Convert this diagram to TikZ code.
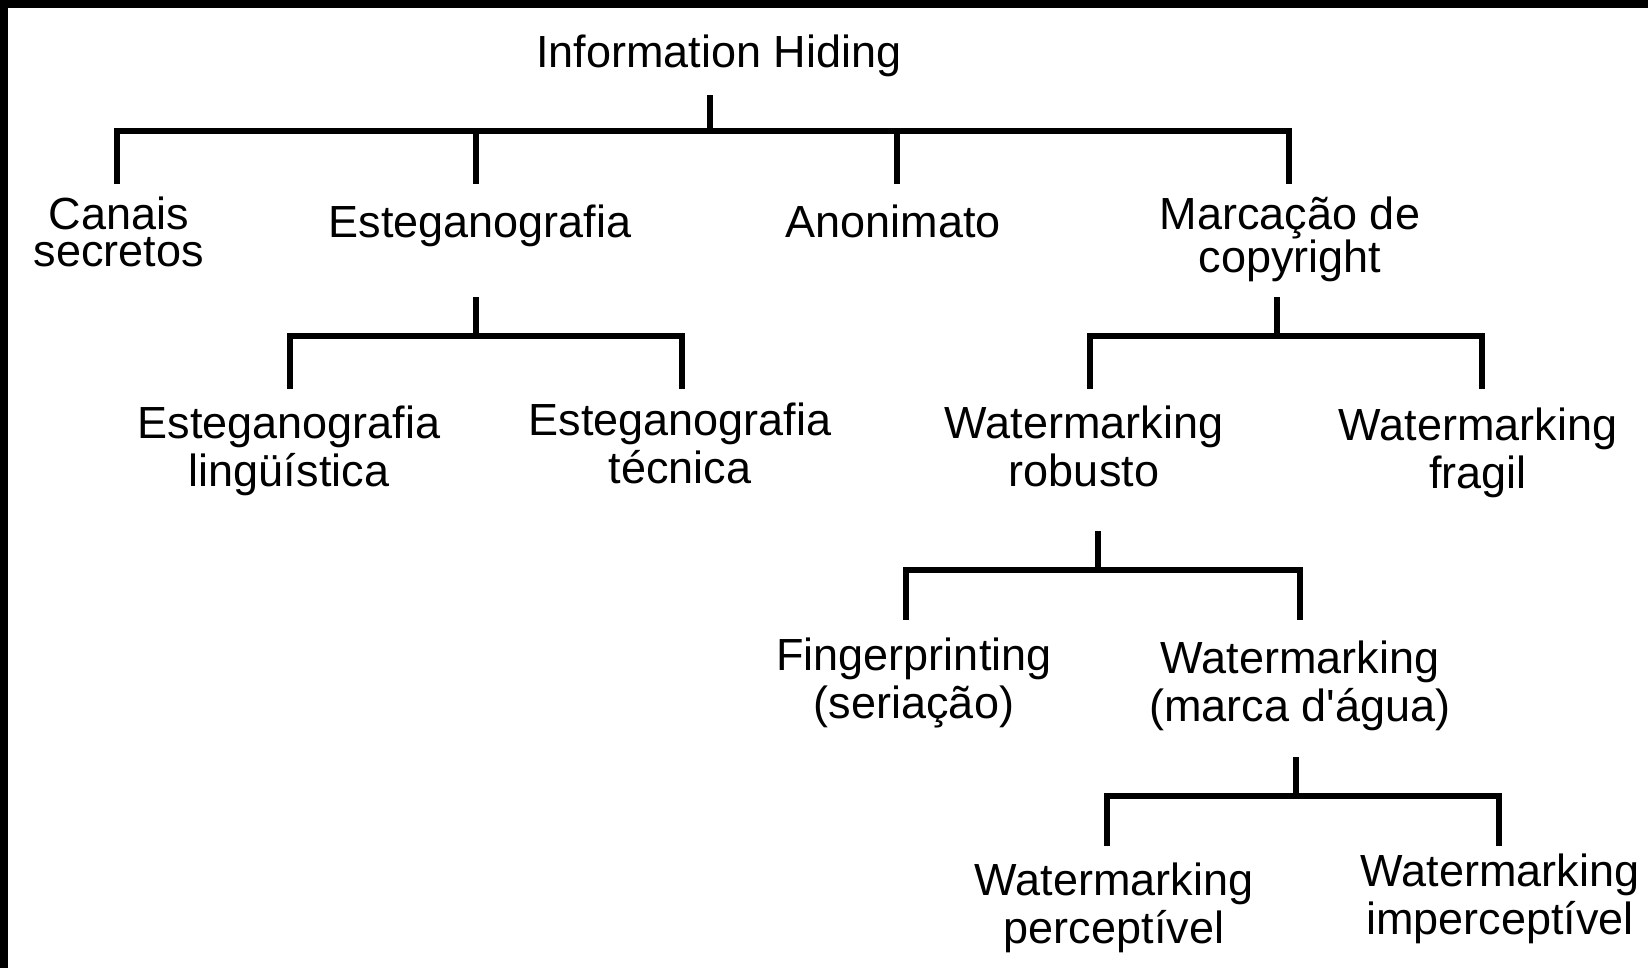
\documentclass[tikz,border=0pt]{standalone}
\usepackage{fontspec}
\setmainfont{Liberation Sans}
\usetikzlibrary{calc}
\begin{document}
\begin{tikzpicture}[x=0.01cm,y=-0.01cm,
  lbl/.style={inner sep=0pt, anchor=base, align=center,
              font=\fontsize{12.8pt}{13.66pt}\selectfont},
  tight/.style={font=\fontsize{12.8pt}{10.8pt}\selectfont},
  medium/.style={font=\fontsize{12.8pt}{12.5pt}\selectfont},
  tree/.style={line width=0.065cm, line join=miter, line cap=butt}]
% page and frame strips
\useasboundingbox (0,0) rectangle (1648,968);
\fill[white] (0,0) rectangle (1648,968);
\fill[black] (0,0) rectangle (1648,8);
\fill[black] (0,0) rectangle (8,968);

% labels (base anchor sits on the last line of each label)
\node[lbl] (ih) at (719,68) {Information Hiding};
\node[lbl,tight] (canais) at (119,267) {Canais\\secretos};
\node[lbl] (esteg) at (480,238) {Esteganografia};
\node[lbl] (anon) at (893,238) {Anonimato};
\node[lbl,medium] (marc) at (1290,273) {Marcação de\\copyright};

\node[lbl] (ling) at (289,487) {Esteganografia\\lingüística};
\node[lbl] (tec) at (680,484) {Esteganografia\\técnica};
\node[lbl] (rob) at (1084,487) {Watermarking\\robusto};
\node[lbl] (frag) at (1478,489) {Watermarking\\fragil};

\node[lbl] (finger) at (914,719) {Fingerprinting\\(seriação)};
\node[lbl] (marca) at (1300,722) {Watermarking\\(marca d\textquotesingle água)};

\node[lbl] (perc) at (1114,944) {Watermarking\\perceptível};
\node[lbl] (imperc) at (1500,935) {Watermarking\\imperceptível};

% level 1: Information Hiding
\coordinate (j0) at (710,131);
\draw[tree] (j0) -- ++(0,-36);
\draw[tree] ($(j0 -| canais)+(-2,53)$) |- (j0) -| ($(j0 -| marc)+(-1,53)$);
\draw[tree] ($(j0 -| esteg)+(-4,0)$) -- ++(0,53);
\draw[tree] ($(j0 -| anon)+(4,0)$) -- ++(0,53);

% level 2: Esteganografia
\coordinate (j1) at (476,336);
\draw[tree] (j1) -- ++(0,-39);
\draw[tree] ($(j1 -| ling)+(1,53)$) |- (j1) -| ($(j1 -| tec)+(2,53)$);

% level 2: Marcação de copyright
\coordinate (j2) at (1277,336);
\draw[tree] (j2) -- ++(0,-39);
\draw[tree] ($(j2 -| rob)+(6,53)$) |- (j2) -| ($(j2 -| frag)+(4,53)$);

% level 3: Watermarking robusto
\coordinate (j3) at (1098,570);
\draw[tree] (j3) -- ++(0,-39);
\draw[tree] ($(j3 -| finger)+(-8,50)$) |- (j3) -| ($(j3 -| marca)+(0,50)$);

% level 4: Watermarking (marca d'água)
\coordinate (j4) at (1296,796);
\draw[tree] (j4) -- ++(0,-39);
\draw[tree] ($(j4 -| perc)+(-7,50)$) |- (j4) -| ($(j4 -| imperc)+(-1,50)$);
\end{tikzpicture}
\end{document}
